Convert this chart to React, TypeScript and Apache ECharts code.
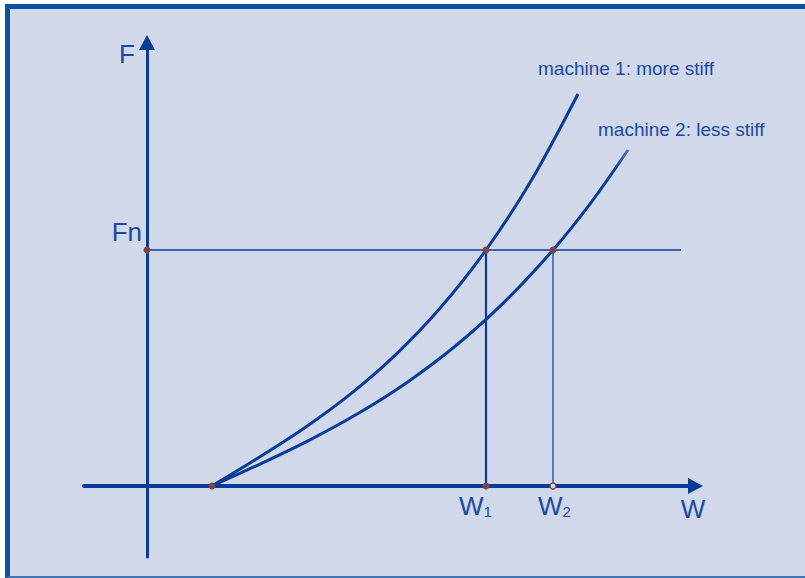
import React, { useEffect, useRef } from "react";
import * as echarts from "echarts";

// ---- data (W = deformation, F = force) ----
const W0 = 0.65; // common starting point of both machine curves
const W1 = 3.39; // intersection of machine 1 with Fn
const W2 = 4.06; // intersection of machine 2 with Fn
const FN = 2.36; // force level Fn
const FN_LINE_END = 5.34;

const machine1W = [0.65, 1.11, 1.57, 2.03, 2.48, 2.93, 3.39, 3.85, 4.31];
const machine1F = [0, 0.279, 0.577, 0.916, 1.307, 1.777, 2.36, 3.067, 3.92];

const machine2W = [0.65, 1.14, 1.62, 2.11, 2.6, 3.09, 3.57, 4.06, 4.44, 4.81];
const machine2F = [0, 0.224, 0.457, 0.725, 1.036, 1.405, 1.836, 2.36, 2.834, 3.36];

const curveNames = ["machine 1: more stiff", "machine 2: less stiff"];
const axisNames = ["W", "F"];

const X_MIN = -0.63;
const X_MAX = 5.485;
const Y_MIN = -0.71;
const Y_MAX = 4.435;

const BLUE = "#083c97";
const TEXT = "#1a4a9e";
const DOT = "#7a4646";
const BG = "#d1d8ea";
const FONT = '"Liberation Sans", Arial, Helvetica, sans-serif';

const subLabel = (main: string, sub: string) => ({
  show: true,
  position: "bottom" as const,
  distance: 3,
  formatter: `{m|${main}}{s|${sub}}`,
  rich: {
    m: { fontSize: 26, lineHeight: 26, color: TEXT, fontFamily: FONT, verticalAlign: "bottom" },
    s: { fontSize: 15, lineHeight: 18, color: TEXT, fontFamily: FONT, verticalAlign: "bottom" },
  },
});

export default function App() {
  const ref = useRef<HTMLDivElement>(null);

  useEffect(() => {
    if (!ref.current) return;
    const chart = echarts.init(ref.current, undefined, { renderer: "svg" });

    const pairs = (xs: number[], ys: number[]) => xs.map((x, i) => [x, ys[i]]);

    const option: any = {
      animation: false,
      backgroundColor: "transparent",
      grid: { left: 84, right: 109.5, top: 42.5, bottom: 21, containLabel: false },
      xAxis: {
        type: "value",
        min: X_MIN,
        max: X_MAX,
        name: axisNames[0],
        nameLocation: "end",
        nameGap: -2.5,
        nameTextStyle: {
          color: TEXT,
          fontSize: 26,
          fontFamily: FONT,
          align: "center",
          verticalAlign: "top",
          padding: [10, 0, 0, 0],
        },
        axisLine: {
          onZero: true,
          symbol: ["none", "triangle"],
          symbolSize: [16, 15],
          lineStyle: { color: BLUE, width: 4 },
        },
        axisTick: { show: false },
        axisLabel: { show: false },
        splitLine: { show: false },
      },
      yAxis: {
        type: "value",
        min: Y_MIN,
        max: Y_MAX,
        name: axisNames[1],
        nameLocation: "end",
        nameGap: -11,
        nameTextStyle: {
          color: TEXT,
          fontSize: 26,
          fontFamily: FONT,
          align: "right",
          verticalAlign: "middle",
          padding: [0, 12, 0, 0],
        },
        axisLine: {
          onZero: true,
          symbol: ["none", "triangle"],
          symbolSize: [16, 15],
          lineStyle: { color: BLUE, width: 3 },
        },
        axisTick: { show: false },
        axisLabel: { show: false },
        splitLine: { show: false },
      },
      series: [
        {
          name: curveNames[0],
          type: "line",
          data: pairs(machine1W, machine1F),
          smooth: 0.3,
          showSymbol: false,
          lineStyle: { color: BLUE, width: 3 },
          endLabel: {
            show: true,
            formatter: curveNames[0],
            color: TEXT,
            fontSize: 19,
            fontFamily: FONT,
            distance: 0,
            offset: [-40, -25.6],
          },
          z: 3,
        },
        {
          name: curveNames[1],
          type: "line",
          data: pairs(machine2W, machine2F),
          smooth: 0.3,
          showSymbol: false,
          lineStyle: {
            width: 3,
            color: new echarts.graphic.LinearGradient(0, 1, 1, 0, [
              { offset: 0, color: BLUE },
              { offset: 0.955, color: BLUE },
              { offset: 1, color: "#5277b6" },
            ]),
          },
          endLabel: {
            show: true,
            formatter: curveNames[1],
            color: TEXT,
            fontSize: 19,
            fontFamily: FONT,
            distance: 0,
            offset: [-30, -20.6],
          },
          z: 3,
        },
        {
          name: "Fn level",
          type: "line",
          data: [
            [0, FN],
            [FN_LINE_END, FN],
          ],
          showSymbol: false,
          lineStyle: { color: BLUE, width: 1.4 },
          z: 2,
        },
        {
          name: "W1 drop",
          type: "line",
          data: [
            [W1, 0],
            [W1, FN],
          ],
          showSymbol: false,
          lineStyle: { color: BLUE, width: 2.2 },
          z: 2,
        },
        {
          name: "W2 drop",
          type: "line",
          data: [
            [W2, 0],
            [W2, FN],
          ],
          showSymbol: false,
          lineStyle: { color: BLUE, width: 1.2 },
          z: 2,
        },
        {
          name: "points",
          type: "scatter",
          symbol: "circle",
          symbolSize: 7,
          itemStyle: { color: DOT, opacity: 1 },
          z: 5,
          data: [
            {
              value: [0, FN],
              label: {
                show: true,
                formatter: "Fn",
                position: "left",
                distance: 1.5,
                offset: [0, -18],
                color: TEXT,
                fontSize: 26,
                fontFamily: FONT,
              },
            },
            { value: [W0, 0] },
            { value: [W1, 0], label: { ...subLabel("W", "1"), offset: [-10.5, 0] } },
            { value: [W1, FN] },
            { value: [W2, FN] },
          ],
        },
        {
          name: "W2 point",
          type: "scatter",
          symbol: "circle",
          symbolSize: 6,
          itemStyle: { color: BG, borderColor: DOT, borderWidth: 1.3, opacity: 1 },
          z: 5,
          data: [{ value: [W2, 0], label: { ...subLabel("W", "2"), offset: [1.5, 0] } }],
        },
      ],
    };

    chart.setOption(option);
    return () => chart.dispose();
  }, []);

  return (
    <div
      style={{
        position: "absolute",
        left: 0,
        top: 0,
        width: 805,
        height: 578,
        overflow: "hidden",
        background: "#ffffff",
      }}
    >
      <div
        style={{
          position: "absolute",
          left: 5,
          top: 4,
          width: 840,
          height: 574,
          boxSizing: "border-box",
          background: BG,
          borderTop: "5px solid #0954a2",
          borderLeft: "5px solid #0954a2",
          borderBottom: "2px solid #4274b2",
        }}
      />
      <div ref={ref} style={{ position: "absolute", left: 0, top: 0, width: 805, height: 578 }} />
    </div>
  );
}
